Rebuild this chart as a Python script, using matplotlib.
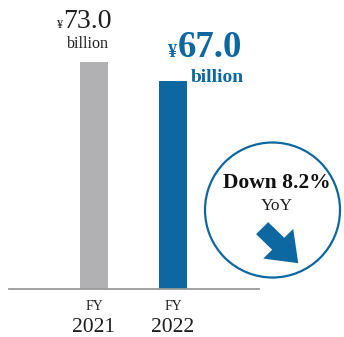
import matplotlib.pyplot as plt
from matplotlib.patches import Circle, FancyArrow

years = ['2021', '2022']
values = [73.0, 67.0]
change_pct = -8.2

gray = '#b1b0b2'
blue = '#0d67a0'
ink = '#1e1e1e'

plt.rcParams['font.family'] = ['Liberation Serif', 'DejaVu Serif']

fig = plt.figure(figsize=(3.44, 3.37), dpi=100)
ax = fig.add_axes([0, 0, 1, 1])
ax.set_xlim(-1.19, 3.165)
ax.set_ylim(-15.44, 92.94)
ax.axis('off')

xs = [0, 1]
ax.bar(xs, values, width=0.355, color=[gray, blue])
ax.plot([-1.08, 2.09], [0, 0], color='#9a9a9a', lw=1.3)

# year labels under the baseline
for x, yr in zip(xs, years):
    ax.text(x, -3.6, 'FY', ha='center', va='top', fontsize=10, color=ink)
    ax.text(x, -9.2, yr, ha='center', va='top', fontsize=15.5, color=ink)

# FY2021 value: small yen sign, large figure, "billion" below
ax.text(-0.40, values[0] + 10.9, '¥', ha='right', va='baseline',
        fontsize=9, color=ink)
ax.text(-0.39, values[0] + 10.9, f'{values[0]:.1f}', ha='left',
        va='baseline', fontsize=20, color=ink)
ax.text(-0.08, values[0] + 4.5, 'billion', ha='center', va='baseline',
        fontsize=11.5, color=ink)

# FY2022 value in bold blue
ax.text(1.055, values[1] + 7.6, '¥', ha='right', va='baseline',
        fontsize=13, fontweight='bold', color=blue)
ax.text(1.065, values[1] + 7.6, f'{values[1]:.1f}', ha='left',
        va='baseline', fontsize=26.5, fontweight='bold', color=blue)
ax.text(1.563, values[1] - 0.4, 'billion', ha='center', va='baseline',
        fontsize=14, fontweight='bold', color=blue)

# change badge
ax.add_patch(Circle((272.5, 337 - 210), 67.5, transform=None, fill=False,
                    ec=blue, lw=1.6))
ax.text(0.805, 0.442, f'Down {abs(change_pct):.1f}%', transform=ax.transAxes,
        ha='center', va='baseline', fontsize=15.5, fontweight='bold',
        color='#111111')
ax.text(0.805, 0.377, 'YoY', transform=ax.transAxes, ha='center',
        va='baseline', fontsize=12.5, color=ink)
ax.add_patch(FancyArrow(0.762, 0.323, 0.105, -0.104, width=0.05,
                        head_width=0.124, head_length=0.082,
                        length_includes_head=True, transform=ax.transAxes,
                        color=blue, lw=0))

fig.savefig('out.png', dpi=100)
